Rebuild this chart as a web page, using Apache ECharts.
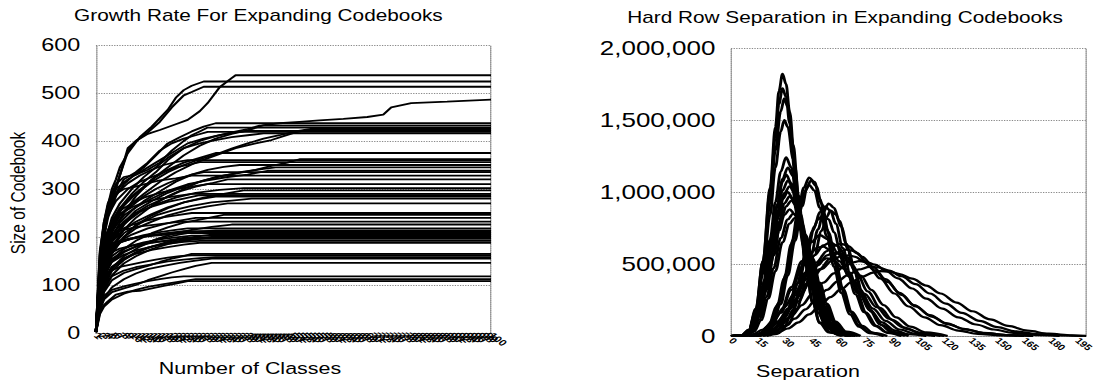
<!DOCTYPE html>
<html>
<head>
<meta charset="utf-8">
<script src="https://cdn.jsdelivr.net/npm/echarts@6/dist/echarts.min.js"></script>
<style>
  html, body { margin: 0; padding: 0; background: #fff; overflow: hidden; }
  /* the figure is laid out narrow and widened as a whole, giving its broad lettering */
  #chart { width: 844px; height: 381px; transform: scaleX(1.3); transform-origin: 0 0; }
</style>
</head>
<body>
<div id="chart"></div>
<script>
// ---- Growth of codebook size as classes are added: [class index, codebook size] ----
const classLabels = Array.from({ length: 100 }, (_, i) => String(i + 1));
const growthTicks = [0, 100, 200, 300, 400, 500, 600];

const growthRuns = [
  [[0,4],[1,130],[2,210],[3,265],[4,300],[5,320],[6,345],[8,375],[11,408],[14,430],[18,465],[20,490],[22,506],[24,515],[27,524],[99,524]],
  [[0,4],[1,120],[2,200],[3,255],[5,304],[8,378],[10,400],[13,415],[16,423],[20,435],[23,444],[26,462],[28,479],[31,512],[34,531],[35,537],[99,537]],
  [[0,4],[1,140],[2,215],[3,260],[5,300],[8,385],[10,400],[13,418],[16,440],[19,470],[22,495],[24,502],[27,513],[99,513]],
  [[0,4],[1,90],[2,150],[4,210],[7,250],[10,285],[14,320],[18,345],[22,370],[26,390],[30,405],[34,415],[38,422],[42,433],[46,437],[51,440],[56,443],[62,446],[68,450],[72,455],[74,470],[79,479],[88,482],[99,486]],
  [[0,3],[1,140],[2,200],[3,240],[5,285],[7,310],[9,325],[12,345],[15,370],[18,395],[21,408],[24,420],[27,430],[30,437],[99,437]],
  [[0,3],[1,110],[2,175],[4,230],[6,260],[9,290],[12,315],[15,335],[18,360],[22,385],[26,400],[30,410],[34,418],[38,425],[41,432],[99,432]],
  [[0,3],[1,160],[2,230],[3,270],[5,310],[7,325],[10,330],[13,340],[16,355],[19,380],[22,400],[24,412],[26,420],[28,428],[99,428]],
  [[0,2],[1,110],[2,170],[4,225],[7,265],[10,290],[14,315],[18,335],[22,350],[26,362],[30,372],[34,384],[38,395],[42,405],[46,412],[50,420],[55,427],[99,427]],
  [[0,2],[1,100],[2,160],[4,215],[6,245],[9,270],[12,290],[16,315],[20,335],[25,355],[30,370],[35,385],[40,395],[44,402],[47,410],[50,418],[53,423],[99,423]],
  [[0,3],[1,130],[2,200],[3,250],[5,290],[7,320],[10,335],[13,355],[16,380],[19,395],[22,405],[25,412],[28,419],[99,419]],
  [[0,2],[1,120],[2,180],[4,240],[6,270],[9,300],[12,325],[15,345],[18,365],[22,385],[26,395],[30,402],[34,408],[38,412],[42,416],[99,416]],
  [[0,3],[1,145],[2,215],[3,260],[5,300],[8,320],[11,335],[14,350],[17,365],[20,380],[23,395],[27,405],[31,412],[35,418],[38,421],[99,421]],
  [[0,2],[1,120],[2,180],[4,230],[6,260],[9,285],[12,305],[15,325],[18,340],[22,355],[26,365],[30,375],[99,375]],
  [[0,2],[1,80],[2,130],[4,180],[7,215],[10,240],[14,265],[18,285],[22,300],[26,315],[30,325],[35,332],[40,340],[44,348],[48,355],[51,362],[99,362]],
  [[0,3],[1,165],[2,225],[3,260],[5,290],[8,312],[11,328],[14,340],[17,350],[20,356],[23,360],[99,360]],
  [[0,3],[1,150],[2,210],[3,245],[5,275],[8,300],[11,315],[14,325],[17,335],[20,345],[23,350],[26,356],[99,356]],
  [[0,2],[1,100],[2,155],[4,200],[6,230],[9,255],[12,275],[16,295],[20,315],[24,330],[28,340],[32,346],[36,350],[99,350]],
  [[0,2],[1,90],[2,145],[4,195],[7,230],[10,255],[14,275],[18,292],[22,305],[27,318],[32,328],[37,336],[42,342],[45,345],[99,345]],
  [[0,2],[1,110],[2,170],[4,220],[6,245],[9,265],[12,285],[15,300],[18,312],[21,322],[24,330],[27,335],[99,335]],
  [[0,3],[1,105],[2,165],[4,215],[7,245],[10,262],[14,280],[18,296],[23,310],[28,318],[33,325],[38,330],[43,338],[99,338]],
  [[0,3],[1,170],[2,230],[3,265],[5,290],[7,300],[10,305],[13,312],[16,318],[20,322],[24,328],[99,328]],
  [[0,2],[1,90],[2,140],[4,190],[7,225],[10,250],[13,265],[17,280],[21,295],[25,305],[29,312],[33,320],[99,320]],
  [[0,2],[1,130],[2,190],[4,235],[6,255],[9,270],[12,282],[16,292],[20,300],[24,305],[28,310],[99,310]],
  [[0,2],[1,95],[2,150],[4,195],[7,228],[11,252],[15,268],[20,282],[25,292],[31,298],[37,302],[99,302]],
  [[0,2],[1,70],[2,120],[4,165],[7,200],[10,225],[14,245],[18,260],[22,272],[27,282],[32,290],[37,297],[99,297]],
  [[0,3],[1,140],[2,195],[4,230],[6,248],[9,262],[12,272],[16,280],[20,285],[24,290],[99,290]],
  [[0,2],[1,115],[2,165],[4,205],[7,232],[10,250],[14,263],[18,273],[22,280],[26,287],[99,287]],
  [[0,2],[1,100],[2,150],[4,190],[7,215],[10,232],[14,248],[18,262],[22,272],[26,279],[30,284],[99,284]],
  [[0,2],[1,85],[2,135],[4,180],[7,208],[11,228],[15,245],[19,255],[24,265],[29,272],[34,276],[39,280],[99,280]],
  [[0,2],[1,85],[2,130],[4,170],[7,200],[10,218],[14,232],[18,245],[23,256],[28,264],[33,270],[99,270]],
  [[0,2],[1,120],[2,170],[4,200],[6,215],[9,225],[12,233],[16,240],[20,245],[24,250],[99,250]],
  [[0,2],[1,75],[2,115],[4,150],[7,175],[10,192],[14,208],[18,220],[22,230],[27,238],[32,246],[99,246]],
  [[0,2],[1,95],[2,140],[4,175],[6,192],[9,205],[13,218],[17,227],[21,234],[25,240],[99,240]],
  [[0,2],[1,150],[2,185],[3,200],[5,210],[8,217],[11,222],[15,226],[19,230],[22,232],[99,232]],
  [[0,2],[1,65],[2,100],[4,135],[7,160],[11,180],[15,195],[19,206],[24,215],[29,221],[34,226],[99,226]],
  [[0,2],[1,110],[2,150],[4,175],[6,188],[9,197],[12,204],[16,210],[20,215],[23,218],[99,218]],
  [[0,2],[1,80],[2,120],[4,150],[7,168],[10,180],[14,192],[18,200],[22,207],[26,211],[30,214],[99,214]],
  [[0,2],[1,125],[2,160],[4,180],[7,192],[10,199],[14,204],[18,208],[22,212],[99,212]],
  [[0,2],[1,135],[2,165],[4,182],[6,190],[9,196],[12,201],[15,205],[18,208],[21,210],[99,210]],
  [[0,2],[1,140],[2,170],[3,182],[5,190],[8,196],[11,200],[15,203],[19,206],[23,208],[99,208]],
  [[0,2],[1,60],[2,95],[4,130],[7,152],[10,167],[14,180],[18,190],[22,197],[26,202],[30,206],[99,206]],
  [[0,2],[1,100],[2,138],[4,160],[6,172],[9,182],[12,189],[16,195],[20,199],[24,203],[99,203]],
  [[0,2],[1,55],[2,88],[4,120],[7,145],[10,160],[14,175],[18,185],[23,193],[28,198],[33,202],[99,202]],
  [[0,2],[1,70],[2,105],[4,135],[7,155],[10,168],[13,178],[17,186],[21,192],[25,197],[29,200],[99,200]],
  [[0,2],[1,95],[2,130],[4,155],[7,170],[10,180],[14,188],[18,193],[22,198],[99,198]],
  [[0,2],[1,120],[2,150],[4,168],[6,176],[9,182],[12,186],[15,190],[19,193],[23,196],[99,196]],
  [[0,2],[1,90],[2,125],[4,148],[7,163],[10,172],[14,180],[18,186],[22,190],[26,192],[99,192]],
  [[0,2],[1,80],[2,112],[4,138],[7,155],[10,165],[14,173],[18,179],[22,184],[26,188],[99,188]],
  [[0,2],[1,55],[2,85],[4,110],[7,125],[10,133],[13,140],[16,148],[19,155],[22,160],[24,165],[99,165]],
  [[0,2],[1,90],[2,115],[4,130],[6,138],[9,143],[12,148],[15,153],[18,157],[21,160],[24,162],[99,162]],
  [[0,2],[1,70],[2,98],[4,118],[7,130],[10,137],[14,143],[18,149],[22,153],[26,156],[30,158],[99,158]],
  [[0,2],[1,48],[2,72],[4,95],[7,112],[10,124],[13,133],[17,140],[21,146],[25,151],[29,155],[99,155]],
  [[0,2],[1,50],[2,70],[4,85],[7,93],[10,100],[13,110],[16,118],[19,126],[22,133],[25,140],[29,146],[99,146]],
  [[0,2],[1,60],[2,78],[4,90],[7,97],[10,103],[13,108],[16,112],[19,116],[22,118],[99,118]],
  [[0,2],[1,40],[2,55],[4,70],[7,82],[10,90],[13,96],[17,102],[21,107],[25,112],[99,112]],
  [[0,2],[1,45],[2,58],[3,66],[5,80],[8,86],[11,88],[14,93],[17,98],[20,103],[23,108],[99,108]]
];

// ---- Row separation histograms: [separation, pairs in thousands] ----
const PAIRS_UNIT = 1000;
const separationTicks = [0, 500000, 1000000, 1500000, 2000000];

const separationCurves = [
  [[0,0],[6,5],[10,40],[14,180],[18,520],[22,1030],[25,1450],[27,1700],[29,1820],[31,1750],[33,1560],[36,1180],[39,800],[42,500],[46,230],[50,90],[55,25],[62,0]],
  [[0,0],[6,5],[10,45],[14,190],[18,520],[22,1000],[25,1380],[27,1610],[29,1720],[31,1660],[33,1480],[36,1130],[39,780],[42,490],[46,230],[50,95],[56,25],[63,0]],
  [[0,0],[6,5],[10,40],[14,170],[18,470],[22,920],[25,1290],[28,1560],[30,1650],[32,1590],[35,1330],[38,980],[41,660],[45,350],[49,160],[54,55],[60,10],[66,0]],
  [[0,0],[6,4],[10,35],[14,160],[18,430],[22,840],[25,1170],[28,1420],[30,1500],[32,1450],[35,1230],[38,930],[41,640],[45,350],[49,165],[54,60],[60,12],[67,0]],
  [[0,0],[6,4],[10,30],[14,130],[18,350],[22,670],[25,930],[28,1140],[31,1240],[34,1170],[37,960],[40,720],[44,430],[48,230],[53,90],[58,28],[65,0]],
  [[0,0],[7,4],[11,35],[15,140],[19,360],[23,660],[26,900],[29,1090],[32,1170],[35,1110],[38,920],[41,700],[45,430],[49,230],[54,90],[60,22],[67,0]],
  [[0,0],[7,5],[11,40],[15,160],[19,390],[23,690],[26,910],[29,1070],[31,1120],[34,1060],[37,890],[41,620],[45,370],[49,190],[54,70],[60,15],[66,0]],
  [[0,0],[7,4],[11,35],[15,140],[19,350],[23,630],[26,850],[29,1010],[32,1080],[35,1030],[38,880],[42,630],[46,390],[50,210],[55,85],[61,22],[68,0]],
  [[0,0],[7,4],[11,30],[15,125],[19,320],[23,580],[27,850],[30,990],[33,1040],[36,990],[39,850],[43,610],[47,380],[51,210],[56,85],[62,22],[69,0]],
  [[0,0],[7,5],[11,40],[15,150],[19,360],[23,620],[26,810],[29,950],[32,1000],[35,950],[38,810],[42,590],[46,370],[50,200],[55,80],[61,20],[68,0]],
  [[0,0],[8,5],[12,40],[16,150],[20,350],[24,600],[27,790],[30,920],[33,970],[36,930],[39,800],[43,590],[47,380],[51,210],[56,85],[62,22],[70,0]],
  [[0,0],[8,4],[12,35],[16,135],[20,320],[24,560],[28,800],[31,900],[34,940],[37,900],[40,780],[44,580],[48,380],[52,215],[57,90],[63,25],[71,0]],
  [[0,0],[8,5],[12,40],[16,150],[20,330],[24,560],[27,730],[30,840],[33,880],[36,845],[39,740],[43,560],[47,370],[51,210],[56,90],[62,25],[70,0]],
  [[0,0],[8,4],[12,30],[16,115],[20,270],[24,470],[28,680],[32,810],[35,850],[38,820],[41,720],[45,550],[49,370],[53,220],[58,95],[64,28],[72,0]],
  [[0,0],[9,4],[13,30],[17,110],[21,260],[25,450],[29,650],[33,780],[36,820],[39,790],[42,700],[46,540],[50,370],[54,225],[59,100],[65,30],[73,0]],
  [[10,0],[16,15],[21,70],[26,210],[30,400],[34,640],[38,880],[41,1030],[44,1100],[47,1070],[50,950],[54,740],[58,520],[62,330],[67,170],[72,75],[78,25],[86,0]],
  [[12,0],[18,15],[23,70],[28,220],[32,420],[36,660],[40,900],[43,1040],[45,1080],[48,1040],[51,920],[55,720],[59,510],[63,330],[68,170],[74,70],[80,22],[88,0]],
  [[11,0],[17,15],[22,75],[27,230],[31,430],[35,670],[39,890],[42,1010],[44,1050],[47,1010],[50,890],[54,690],[58,480],[62,300],[67,150],[72,65],[78,20],[86,0]],
  [[18,0],[24,15],[30,70],[35,180],[40,350],[45,560],[49,740],[52,860],[55,920],[58,890],[61,800],[65,640],[69,470],[73,320],[78,180],[84,80],[90,30],[98,0]],
  [[16,0],[22,15],[28,75],[33,190],[38,370],[43,580],[47,760],[50,860],[53,900],[56,870],[59,780],[63,610],[67,440],[71,300],[76,165],[82,70],[88,25],[96,0]],
  [[20,0],[26,15],[32,75],[37,190],[42,360],[47,560],[51,730],[54,830],[56,870],[59,845],[62,760],[66,600],[70,440],[74,300],[79,170],[85,75],[92,25],[100,0]],
  [[15,0],[21,15],[27,75],[32,190],[37,360],[42,560],[46,730],[49,810],[52,840],[55,810],[58,720],[62,570],[66,420],[70,290],[75,165],[81,70],[88,22],[96,0]],
  [[10,0],[16,15],[22,60],[28,170],[34,340],[40,520],[45,650],[50,700],[55,670],[60,580],[66,440],[72,300],[78,185],[85,95],[92,40],[100,12],[110,0]],
  [[12,0],[18,12],[24,50],[30,140],[36,280],[42,440],[47,560],[52,630],[56,650],[60,625],[65,550],[71,430],[77,310],[84,195],[91,110],[99,50],[108,18],[120,0]],
  [[10,0],[16,12],[22,55],[28,160],[34,320],[40,480],[45,580],[49,615],[52,620],[56,595],[61,520],[67,410],[73,300],[80,190],[87,105],[95,45],[104,15],[115,0]],
  [[14,0],[20,10],[26,45],[32,120],[38,240],[44,380],[49,490],[54,560],[58,580],[62,565],[67,510],[73,420],[79,320],[86,215],[93,130],[101,65],[110,25],[122,0]],
  [[12,0],[18,10],[24,45],[30,125],[36,250],[42,390],[47,480],[51,525],[54,540],[58,525],[63,470],[69,385],[75,295],[82,200],[89,120],[97,60],[106,22],[118,0]],
  [[6,0],[12,10],[18,45],[24,110],[30,200],[36,300],[42,410],[48,510],[54,590],[59,630],[62,640],[66,625],[71,575],[77,500],[84,400],[92,295],[100,205],[109,130],[118,75],[128,38],[139,15],[152,4],[165,0]],
  [[8,0],[14,10],[20,40],[26,100],[32,180],[38,275],[44,375],[50,465],[56,540],[61,585],[65,600],[69,590],[74,550],[80,480],[87,395],[95,300],[103,215],[112,145],[121,90],[131,50],[142,22],[155,7],[170,0]],
  [[9,0],[15,10],[21,40],[27,100],[33,185],[39,285],[45,385],[51,465],[57,525],[62,555],[66,560],[70,550],[75,515],[81,455],[88,375],[96,285],[104,205],[113,135],[122,82],[132,45],[143,20],[156,6],[170,0]],
  [[10,0],[16,8],[22,30],[28,75],[34,140],[40,215],[46,295],[52,370],[58,435],[64,485],[69,512],[72,520],[76,515],[81,495],[87,455],[94,400],[102,330],[110,260],[119,190],[128,130],[138,80],[148,45],[159,22],[171,8],[185,0]],
  [[12,0],[18,8],[24,28],[30,65],[36,120],[42,185],[48,255],[54,320],[60,380],[66,425],[72,462],[78,480],[83,476],[89,455],[96,415],[104,360],[112,295],[121,225],[130,160],[140,105],[150,62],[160,33],[172,14],[186,4],[198,0]],
  [[14,0],[20,6],[26,22],[32,52],[38,95],[44,150],[50,210],[56,270],[62,325],[68,375],[74,412],[80,440],[84,450],[89,447],[95,430],[102,398],[110,350],[118,295],[127,232],[136,172],[146,115],[156,70],[167,37],[179,16],[192,5],[200,1]]
];

const FONT = '"Liberation Sans", Arial, sans-serif';
const dotted = { color: '#8a8a8a', type: 'dotted', width: 1 };

const chart = echarts.init(document.getElementById('chart'), null, { renderer: 'svg' });

const series = [];
growthRuns.forEach(run => {
  series.push({
    type: 'line', xAxisIndex: 0, yAxisIndex: 0, data: run,
    showSymbol: false, silent: true, animation: false,
    lineStyle: { color: '#000', width: 1.8 }
  });
});
separationCurves.forEach(curve => {
  series.push({
    type: 'line', xAxisIndex: 1, yAxisIndex: 2,
    data: curve.map(([s, k]) => [s, k * PAIRS_UNIT]),
    smooth: 0.35, smoothMonotone: 'x',
    showSymbol: false, silent: true, animation: false,
    lineStyle: { color: '#000', width: 2.2 }
  });
});

chart.setOption({
  backgroundColor: '#fff',
  animation: false,
  title: [
    { text: 'Growth Rate For Expanding Codebooks', left: 198.8, top: 7, textAlign: 'center', padding: 0,
      textStyle: { fontFamily: FONT, fontSize: 16, fontWeight: 'normal', color: '#000' } },
    { text: 'Hard Row Separation in Expanding Codebooks', left: 650, top: 9, textAlign: 'center', padding: 0,
      textStyle: { fontFamily: FONT, fontSize: 16, fontWeight: 'normal', color: '#000' } }
  ],
  grid: [
    { left: 73.8, top: 45, width: 303.9, height: 288 },
    { left: 562.3, top: 48, width: 274.6, height: 288 }
  ],
  xAxis: [
    { type: 'category', gridIndex: 0, data: classLabels, boundaryGap: false,
      axisLine: { lineStyle: dotted }, axisTick: { show: false }, splitLine: { show: false },
      axisLabel: { interval: 0, rotate: -45, fontSize: 9, fontWeight: 'bold', margin: 1, color: '#000', fontFamily: FONT } },
    { type: 'value', gridIndex: 1, min: 0, max: 200, interval: 15,
      axisLine: { lineStyle: dotted }, axisTick: { show: false }, splitLine: { show: false },
      axisLabel: { rotate: -45, fontSize: 8.5, fontWeight: 'bold', margin: 3, color: '#000', fontFamily: FONT, showMaxLabel: false } }
  ],
  yAxis: [
    { type: 'value', gridIndex: 0, min: growthTicks[0], max: growthTicks[growthTicks.length - 1], interval: 100,
      axisLine: { show: true, lineStyle: dotted }, axisTick: { show: false },
      splitLine: { show: true, lineStyle: dotted },
      axisLabel: { fontSize: 18, margin: 12, color: '#000', fontFamily: FONT } },
    { type: 'value', gridIndex: 0, position: 'right', min: 0, max: 1,
      axisLine: { show: true, lineStyle: dotted }, axisTick: { show: false },
      axisLabel: { show: false }, splitLine: { show: false } },
    { type: 'value', gridIndex: 1, min: separationTicks[0], max: separationTicks[separationTicks.length - 1], interval: 500000,
      axisLine: { show: true, lineStyle: dotted }, axisTick: { show: false },
      splitLine: { show: true, lineStyle: dotted },
      axisLabel: { fontSize: 20, margin: 12, color: '#000', fontFamily: FONT,
        formatter: v => String(v).replace(/\B(?=(\d{3})+(?!\d))/g, ',') } },
    { type: 'value', gridIndex: 1, position: 'right', min: 0, max: 1,
      axisLine: { show: true, lineStyle: dotted }, axisTick: { show: false },
      axisLabel: { show: false }, splitLine: { show: false } }
  ],
  graphic: [
    { type: 'text', x: 192.3, y: 368, silent: true,
      style: { text: 'Number of Classes', fontFamily: FONT, fontSize: 16.5, fill: '#000', align: 'center', verticalAlign: 'middle' } },
    { type: 'text', x: 621.5, y: 371, silent: true,
      style: { text: 'Separation', fontFamily: FONT, fontSize: 16.5, fill: '#000', align: 'center', verticalAlign: 'middle' } },
    { type: 'text', x: 13.8, y: 193, rotation: Math.PI / 2, silent: true,
      style: { text: 'Size of Codebook', fontFamily: FONT, fontSize: 15.5, fill: '#000', align: 'center', verticalAlign: 'middle' } }
  ],
  series: series
});
</script>
</body>
</html>
